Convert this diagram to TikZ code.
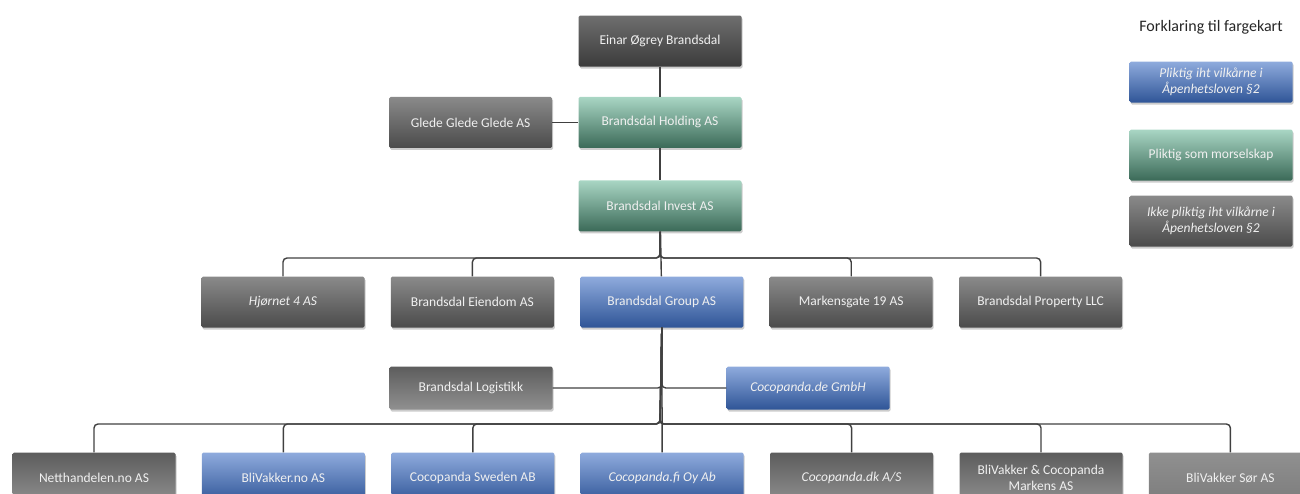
\documentclass[tikz,border=0pt]{standalone}
\usepackage{fontspec}
\setmainfont{Carlito}
\usepackage{tikz}
\usetikzlibrary{positioning,shadows}

\definecolor{grayTop}{HTML}{8A8A8A}
\definecolor{grayBot}{HTML}{4B4B4B}
\definecolor{blueTop}{HTML}{8FABDD}
\definecolor{blueBot}{HTML}{2F5597}
\definecolor{greenTop}{HTML}{A9D6C4}
\definecolor{greenBot}{HTML}{3B6A58}
\definecolor{lineGray}{HTML}{404040}

\begin{document}
\begin{tikzpicture}[x=1pt, y=-1pt, node distance=30pt and 26pt,
    box/.style={rectangle, rounded corners=1.5pt, minimum width=163pt, minimum height=51pt,
        text=white!94!black, align=center, font=\fontsize{13.5}{16}\selectfont,
        drop shadow={opacity=0.4, shadow xshift=1pt, shadow yshift=-2pt}},
    graybox/.style={box, top color=grayTop, bottom color=grayBot},
    darkgray/.style={box, top color=grayTop!80!black, bottom color=grayBot!80!black},
    grayflip/.style={box, top color=grayBot!90, bottom color=grayTop!95},
    lightgray/.style={box, top color=grayTop!95, bottom color=grayTop!90!black},
    bluebox/.style={box, top color=blueTop, bottom color=blueBot},
    greenbox/.style={box, top color=greenTop, bottom color=greenBot},
    conn/.style={draw=lineGray, line width=1.4pt, rounded corners=4pt}]
    \useasboundingbox (0,0) rectangle (1300,493);
    \clip (0,0) rectangle (1300,493);

    %Nodes
    \node[darkgray]  (einar)      at (660,41)           {Einar Øgrey Brandsdal};
    \node[greenbox]  (holding)    [below=of einar]      {Brandsdal Holding AS};
    \node[graybox]   (glede)      [left=of holding]     {Glede Glede Glede AS};
    \node[greenbox]  (invest)     [below=32pt of holding] {Brandsdal Invest AS};

    \node[graybox]   (hjornet)    at (283,302)          {\itshape Hjørnet 4 AS};
    \node[graybox]   (eiendom)    [right=of hjornet]    {Brandsdal Eiendom AS};
    \node[bluebox]   (group)      [right=of eiendom]    {Brandsdal Group AS};
    \node[graybox]   (markensgate) [right=of group]     {Markensgate 19 AS};
    \node[graybox]   (property)   [right=of markensgate] {Brandsdal Property LLC};

    \node[grayflip, minimum height=43pt] (logistikk) at (471,388) {Brandsdal Logistikk};
    \node[bluebox, minimum height=43pt]  (cocode)    at (808,388) {\itshape Cocopanda.de GmbH};

    \node[grayflip]  (netthandel) at (94,478)           {Netthandelen.no AS};
    \node[bluebox]   (blivakker)  [right=of netthandel] {BliVakker.no AS};
    \node[bluebox]   (sweden)     [right=of blivakker]  {Cocopanda Sweden AB};
    \node[bluebox]   (cocofi)     [right=of sweden]     {\itshape Cocopanda.fi Oy Ab};
    \node[grayflip]  (cocodk)     [right=of cocofi]     {\itshape Cocopanda.dk A/S};
    \node[grayflip]  (markens)    [right=of cocodk]     {BliVakker \& Cocopanda\\Markens AS};
    \node[lightgray] (sor)        [right=of markens]    {BliVakker Sør AS};

    %Legend
    \node[font=\fontsize{16}{19}\selectfont, text=black!85] (legend) at (1211,27) {Forklaring til fargekart};
    \node[bluebox, minimum height=41pt]  (keyblue)  at (1211,82)  {\itshape Pliktig iht vilkårne i\\\itshape Åpenhetsloven §2};
    \node[greenbox]                      (keygreen) at (1211,155) {Pliktig som morselskap};
    \node[graybox]                       (keygray)  at (1211,221) {\itshape Ikke pliktig iht vilkårne i\\\itshape Åpenhetsloven §2};

    %Lines
    \coordinate (bus1) at (660,258);
    \coordinate (bus2) at (660,424);
    \draw[conn] (einar) -- (holding);
    \draw[conn] (glede) -- (holding);
    \draw[conn] (holding) -- (invest);
    \draw[conn] (invest) -- (group);
    \foreach \c in {hjornet, eiendom, markensgate, property}
        \draw[conn] (invest.south) -- (bus1) -| (\c.north);
    \draw[conn] (group.south) |- (logistikk.east);
    \draw[conn] (group.south) |- (cocode.west);
    \draw[conn] (group) -- (cocofi);
    \foreach \c in {netthandel, blivakker, sweden, cocodk, markens, sor}
        \draw[conn] (group.south) -- (bus2) -| (\c.north);
\end{tikzpicture}
\end{document}
